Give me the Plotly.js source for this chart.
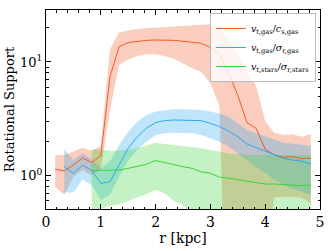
<!DOCTYPE html>
<html><head><meta charset="utf-8">
<script src="https://cdn.plot.ly/plotly-3.0.1.min.js"></script>
<style>body{margin:0;background:#fff}#c{width:332px;height:251px}</style>
</head><body><div id="c"></div>
<script>
var r = [0.167,0.333,0.5,0.667,0.833,1.0,1.167,1.333,1.5,1.667,1.833,2.0,2.167,2.333,2.5,2.667,2.833,3.0,3.167,3.333,3.5,3.667,3.833,4.0,4.167,4.333,4.5,4.667,4.833];

var gasCs      = [1.14,1.10,1.24,1.43,1.31,1.49,7.4,13.6,14.8,15.2,15.5,15.6,15.6,15.5,15.2,14.8,14.6,13.4,11.7,7.9,5.1,2.93,2.61,1.71,1.52,1.45,1.47,1.41,1.43];
var gasCsHi    = [1.52,1.52,1.63,1.76,1.66,1.82,12.9,18.2,18.9,19.5,19.8,20.0,20.2,20.4,20.6,20.9,21.2,21.5,20.4,16.1,11.9,8.2,6.2,2.99,2.39,2.28,2.31,2.2,2.32];
var gasCsLo    = [0.8,0.68,0.98,1.12,1.01,1.12,3.78,9.4,10.5,11.3,11.7,11.7,11.3,10.7,9.7,8.8,8.2,6.5,4.05,0.005,0.01,0.05,0.1,0.2,0.65,0.65,0.65,0.64,0.57];

var rB = r.slice(1);
var gasSig     = [1.2,1.05,1.24,1.11,0.857,0.885,1.24,1.74,2.2,2.61,2.93,3.05,3.09,3.07,3.06,3.05,2.89,2.7,2.47,2.2,1.9,1.76,1.63,1.52,1.42,1.37,1.34,1.27];
var gasSigHi   = [1.72,1.37,1.57,1.39,1.16,1.33,1.86,2.44,2.98,3.42,3.66,3.75,3.83,3.83,3.83,3.78,3.66,3.53,3.3,2.89,2.52,2.36,2.2,2.08,1.95,1.9,1.86,1.83];
var gasSigLo   = [0.71,0.71,0.92,0.83,0.61,0.68,0.98,1.37,1.68,1.99,2.28,2.36,2.38,2.38,2.36,2.28,2.13,1.99,1.8,1.57,1.37,1.2,1.05,0.92,0.83,0.77,0.72,0.68];

var rS = r.slice(4);
var starSig    = [1.11,1.11,1.11,1.12,1.16,1.2,1.26,1.36,1.3,1.24,1.2,1.16,1.08,1.05,0.97,0.95,0.92,0.89,0.86,0.845,0.845,0.835,0.82,0.816,0.83];
var starSigHi  = [1.7,1.7,1.66,1.66,1.68,1.74,1.83,1.95,1.9,1.86,1.83,1.8,1.74,1.68,1.63,1.57,1.55,1.52,1.52,1.52,1.52,1.52,1.52,1.52,1.52];
var starSigLo  = [0.3,0.51,0.54,0.56,0.6,0.64,0.69,0.75,0.7,0.6,0.55,0.47,0.4,0.38,0.35,0.33,0.3,0.3,0.3,0.3,0.3,0.3,0.3,0.3,0.3];

var labels = ['<i>v</i><sub>t,gas</sub>/<i>c</i><sub>s,gas</sub>',
              '<i>v</i><sub>t,gas</sub>/<i>σ</i><sub>r,gas</sub>',
              '<i>v</i><sub>t,stars</sub>/<i>σ</i><sub>r,stars</sub>'];

var cO='#f05a28', cB='#2ba8ee', cG='#3ad43a';
function band(x,hi,lo,fc){
  return [
    {x:x,y:hi,mode:'lines',line:{width:0},showlegend:false,hoverinfo:'skip'},
    {x:x,y:lo,mode:'lines',line:{width:0},fill:'tonexty',fillcolor:fc,showlegend:false,hoverinfo:'skip'}
  ];
}
var data = [].concat(
  band(r,gasCsHi,gasCsLo,'rgba(240,90,40,0.3)'),
  band(rB,gasSigHi,gasSigLo,'rgba(43,168,238,0.3)'),
  band(rS,starSigHi,starSigLo,'rgba(58,212,58,0.3)'),
  [
    {x:r,y:gasCs,mode:'lines',line:{color:cO,width:1},name:labels[0]},
    {x:rB,y:gasSig,mode:'lines',line:{color:cB,width:1},name:labels[1]},
    {x:rS,y:starSig,mode:'lines',line:{color:cG,width:1},name:labels[2]}
  ]
);
var F="DejaVu Serif";
var layout = {
  width:332,height:251,
  margin:{l:46,r:12,t:10,b:42},
  paper_bgcolor:'#fff',plot_bgcolor:'#fff',
  font:{family:F,size:14,color:'#000'},
  showlegend:true,
  legend:{x:0.985,y:0.985,xanchor:'right',yanchor:'top',bgcolor:'rgba(255,255,255,0.8)',traceorder:'normal',
          bordercolor:'#bbb',borderwidth:1,font:{family:F,size:9.5},tracegroupgap:0,itemwidth:30},
  xaxis:{range:[0,5],showgrid:false,zeroline:false,showline:true,linecolor:'#000',linewidth:1,mirror:'allticks',
         ticks:'inside',ticklen:5,tickcolor:'#000',dtick:1,tickfont:{family:F,size:14},
         minor:{ticks:'inside',ticklen:2.5,dtick:0.2,tickcolor:'#000'},
         title:{text:'r [kpc]',font:{family:F,size:14},standoff:0}},
  yaxis:{type:'log',range:[-0.293,1.457],showgrid:false,zeroline:false,showline:true,linecolor:'#000',linewidth:1,mirror:'allticks',
         ticks:'inside',ticklen:5,tickcolor:'#000',tickvals:[1,10],ticktext:['10<sup>0</sup>','10<sup>1</sup>'],
         tickfont:{family:F,size:13},
         minor:{ticks:'inside',ticklen:2.5,tickcolor:'#000',tickvals:[0.6,0.7,0.8,0.9,2,3,4,5,6,7,8,9,20]},
         title:{text:'Rotational Support',font:{family:F,size:13},standoff:2}}
};
Plotly.newPlot('c',data,layout,{displayModeBar:false,staticPlot:true});
</script></body></html>
